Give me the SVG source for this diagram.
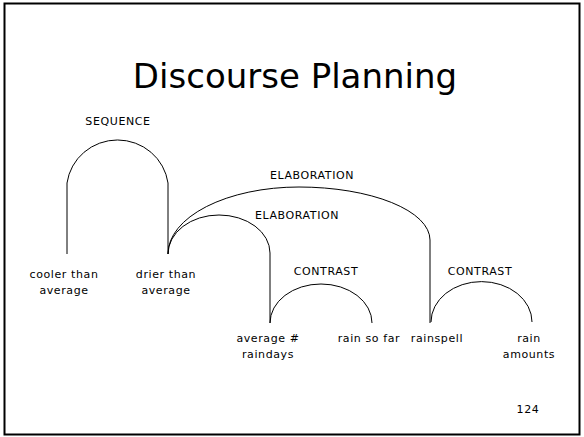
<svg xmlns="http://www.w3.org/2000/svg" width="584" height="437" viewBox="0 0 584 437">
<style>
.lbl{font-family:"DejaVu Sans",sans-serif;font-size:11px;fill:#000;text-anchor:middle;letter-spacing:0.6px}
.ttl{font-family:"DejaVu Sans",sans-serif;font-size:34px;fill:#000;text-anchor:middle}
.ln{fill:none;stroke:#000;stroke-width:1}
</style>
<rect x="4.5" y="3.5" width="575" height="431" fill="#fff" stroke="#000" stroke-width="2"/>
<text class="ttl" x="295" y="88">Discourse Planning</text>
<g id="connectors">
<path class="ln" d="M67,254 L67,183 A51,50 0 0 1 168,183 L168,254"/>
<path class="ln" d="M168,254 A131,67 0 0 1 299,187 A131,53 0 0 1 430,240 L430,323"/>
<path class="ln" d="M168,254 A51,39 0 0 1 219,215 A51,38 0 0 1 270,253 L270,323"/>
<path class="ln" d="M270,323 A51,39 0 0 1 372,323"/>
<path class="ln" d="M431,322 A50,40 0 0 1 532,322"/>
</g>
<g id="rel-sequence"><text class="lbl" x="118" y="125">SEQUENCE</text></g>
<g id="rel-elab1"><text class="lbl" x="312" y="179">ELABORATION</text></g>
<g id="rel-elab2"><text class="lbl" x="297" y="219">ELABORATION</text></g>
<g id="rel-contrast1"><text class="lbl" x="326" y="275">CONTRAST</text></g>
<g id="rel-contrast2"><text class="lbl" x="480" y="275">CONTRAST</text></g>
<g id="n-cooler"><text class="lbl" x="64" y="278">cooler than</text><text class="lbl" x="64" y="294">average</text></g>
<g id="n-drier"><text class="lbl" x="166" y="278">drier than</text><text class="lbl" x="166" y="294">average</text></g>
<g id="n-avgrain"><text class="lbl" x="268" y="342">average #</text><text class="lbl" x="268" y="358">raindays</text></g>
<g id="n-rainsofar"><text class="lbl" x="369" y="342">rain so far</text></g>
<g id="n-rainspell"><text class="lbl" x="437" y="342">rainspell</text></g>
<g id="n-rainamounts"><text class="lbl" x="529" y="342">rain</text><text class="lbl" x="529" y="358">amounts</text></g>
<g id="pagenum"><text class="lbl" x="528" y="413">124</text></g>
</svg>
